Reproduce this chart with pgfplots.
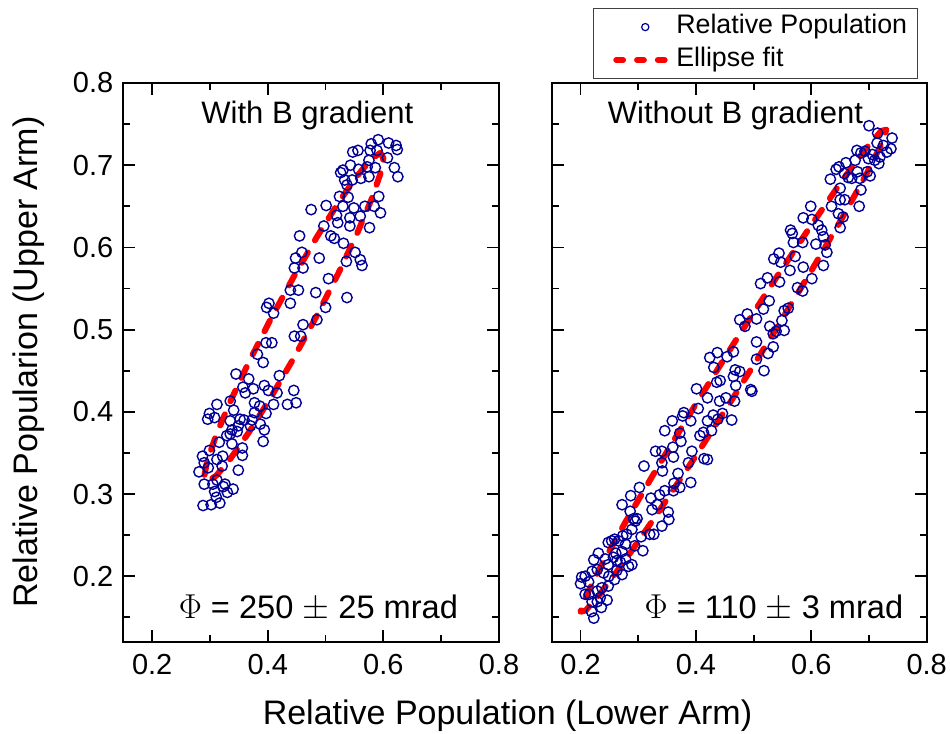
\documentclass[border=0pt]{standalone}
\usepackage{pgfplots}
\pgfplotsset{compat=1.18}
\usepackage{fontspec}
\setmainfont{Liberation Sans}
\definecolor{ptblue}{RGB}{0,0,150}
\definecolor{fitred}{RGB}{255,0,0}
\pgfplotsset{
  panel/.style={
    scale only axis, height=279.5pt,
    xmin=0.15, xmax=0.8, ymin=0.12, ymax=0.8,
    xtick={0.2,0.4,0.6,0.8}, minor xtick={0.3,0.5,0.7},
    ytick={0.2,0.3,0.4,0.5,0.6,0.7,0.8},
    minor ytick={0.15,0.25,0.35,0.45,0.55,0.65,0.75},
    tick align=inside,
    major tick length=6pt, minor tick length=3.5pt,
    tick style={black, line width=0.9pt},
    axis line style={line width=1pt},
    /pgf/number format/assume math mode=true,
    /pgf/number format/fixed, /pgf/number format/fixed zerofill,
    /pgf/number format/precision=1,
    tick label style={font=\fontsize{14.5}{16}\selectfont},
    xticklabel style={yshift=-2.5pt},
    yticklabel style={xshift=-1.5pt},
  },
  pts/.style={only marks, mark=o, color=ptblue, mark size=2.6pt, mark options={line width=0.7pt}},
  fit/.style={no markers, color=fitred, line width=3pt, line cap=round, line join=round, dash pattern=on 6pt off 7pt},
}
\begin{document}
\begin{tikzpicture}
\useasboundingbox (0,0) rectangle (475pt,367pt);
% ---------------- left panel ----------------
\begin{axis}[panel, width=187.85pt, at={(61.65pt,46pt)}, anchor=south west]
\addplot[pts] coordinates {
(.579,.726) (.591,.731) (.609,.727) (.622,.724) (.624,.719) (.547,.716) (.556,.718) (.577,.718) (.589,.718) (.607,.709)
(.575,.706) (.543,.700) (.530,.694) (.526,.691) (.557,.695) (.572,.698) (.586,.697) (.619,.697) (.625,.686) (.533,.682)
(.537,.676) (.546,.682) (.561,.684) (.575,.686) (.524,.662) (.539,.661) (.592,.662) (.475,.646) (.501,.651) (.530,.650)
(.549,.648) (.568,.650) (.584,.650) (.595,.642) (.519,.639) (.542,.636) (.560,.638) (.521,.630) (.542,.626) (.576,.624)
(.497,.626) (.455,.614) (.509,.614) (.515,.611) (.531,.605) (.551,.594) (.560,.585) (.563,.578) (.536,.583) (.448,.587)
(.459,.594) (.446,.575) (.461,.575) (.489,.587) (.505,.562) (.439,.548) (.453,.548) (.483,.545) (.537,.539) (.439,.532)
(.398,.527) (.402,.532) (.410,.520) (.500,.527) (.461,.506) (.485,.512) (.446,.492) (.457,.492) (.397,.484) (.407,.484)
(.382,.470) (.392,.460)
(.345,.446) (.367,.440) (.420,.444) (.357,.430) (.361,.423) (.375,.428) (.394,.432) (.401,.426) (.416,.423) (.445,.426)
(.335,.413) (.312,.409) (.299,.398) (.296,.391) (.308,.393) (.341,.402) (.335,.389) (.352,.391) (.359,.390) (.377,.411)
(.386,.407) (.377,.399) (.397,.398) (.373,.390) (.370,.383) (.387,.385) (.394,.378) (.349,.383) (.338,.378) (.329,.371)
(.335,.373) (.347,.376) (.316,.363) (.338,.361) (.392,.364) (.356,.356) (.356,.347) (.287,.346) (.299,.353) (.290,.338)
(.312,.342) (.322,.346) (.297,.332) (.321,.334) (.281,.327) (.349,.329) (.290,.312) (.312,.317) (.305,.312) (.326,.312)
(.308,.303) (.323,.309) (.340,.306) (.330,.302) (.311,.296) (.288,.286) (.302,.287) (.317,.289) (.434,.409) (.449,.411)
(.410,.409)
};
\addplot[fit] coordinates {
(.6000,.7088) (.5947,.7150) (.5792,.7076) (.5546,.6870) (.5225,.6548) (.4851,.6129) (.4450,.5645) (.4049,.5126)
(.3675,.4609) (.3354,.4129) (.3108,.3719) (.2953,.3406) (.2900,.3212) (.2953,.3150) (.3108,.3224) (.3354,.3430)
(.3675,.3752) (.4049,.4171) (.4450,.4655) (.4851,.5174) (.5225,.5691) (.5546,.6171) (.5792,.6581) (.5947,.6894)
(.6000,.7088)
};
\node[anchor=base, font=\fontsize{15.5}{17}\selectfont] at (rel axis cs:0.49,0.928) {With B gradient};
\node[anchor=base west, font=\fontsize{16.3}{18}\selectfont] at (rel axis cs:0.129,0.042) {$\Phi$ = 250 $\pm$ 25 mrad};
\end{axis}
% ---------------- right panel ----------------
\begin{axis}[panel, width=187.5pt, at={(275.85pt,46pt)}, anchor=south west,
  yticklabels={},
  legend cell align=left,
  legend style={at={(0.976,1.007)}, anchor=south east, draw=black!75, line width=0.5pt, fill=white,
    font=\fontsize{13.4}{15}\selectfont, inner xsep=3pt, inner ysep=1.6pt, row sep=1.2pt,
    nodes={inner xsep=2pt, inner ysep=1pt, text height=10pt, text depth=3.3pt},
    /tikz/every even column/.append style={column sep=5.5pt}},
]
\addplot[pts, legend image code/.code={\path (0pt,0pt); \draw[ptblue, line width=0.6pt] (21.5pt,0pt) circle (1.8pt); \path (33.5pt,0pt);}] coordinates {
(.700,.748) (.715,.739) (.740,.733) (.714,.727) (.725,.724) (.738,.720) (.731,.716) (.679,.718) (.686,.715) (.693,.717)
(.706,.713) (.699,.708) (.710,.706) (.719,.710) (.717,.702) (.676,.706) (.660,.703) (.648,.698) (.643,.695) (.657,.690)
(.664,.685) (.680,.692) (.684,.684) (.697,.692) (.702,.687) (.670,.684) (.633,.683) (.686,.670) (.650,.672) (.650,.658)
(.658,.658) (.683,.650) (.599,.650) (.635,.650) (.647,.641) (.586,.636) (.601,.634) (.612,.627) (.618,.621) (.621,.613)
(.650,.624) (.655,.637) (.564,.621) (.567,.617) (.569,.606) (.585,.606) (.608,.604) (.624,.603) (.627,.594) (.544,.593)
(.535,.586) (.572,.589)
(.621,.578) (.547,.582) (.563,.572) (.586,.576) (.601,.562) (.512,.556) (.524,.563) (.545,.558) (.576,.551) (.585,.547)
(.527,.535) (.517,.525) (.553,.523) (.560,.526) (.489,.519) (.476,.512) (.505,.513) (.485,.504) (.549,.511) (.528,.504)
(.539,.498) (.553,.499) (.534,.495) (.505,.485) (.534,.479) (.525,.471) (.465,.473) (.454,.467) (.437,.472) (.424,.466)
(.431,.454) (.505,.464) (.518,.450) (.468,.451) (.476,.449) (.465,.443) (.442,.438) (.436,.436) (.495,.427) (.401,.428)
(.469,.432)
(.497,.425) (.420,.417) (.441,.413) (.452,.417) (.467,.413) (.404,.404) (.379,.399) (.377,.395) (.391,.389) (.359,.389)
(.420,.389) (.430,.396) (.438,.391) (.446,.398) (.462,.390) (.346,.377) (.372,.374) (.407,.371) (.413,.375) (.427,.377)
(.374,.364) (.360,.357) (.330,.352) (.341,.352) (.393,.352) (.361,.345) (.387,.338) (.414,.343) (.420,.342) (.341,.338)
(.310,.334) (.342,.328) (.369,.325) (.391,.314) (.362,.313) (.372,.308) (.302,.308) (.287,.298) (.322,.295) (.337,.299)
(.346,.304) (.361,.304) (.333,.287) (.272,.287) (.324,.281) (.286,.279) (.352,.278) (.292,.270) (.298,.270)
(.295,.267) (.289,.257) (.280,.251) (.278,.239) (.273,.249) (.259,.245) (.254,.243) (.248,.241) (.266,.243) (.294,.237)
(.308,.231) (.305,.248) (.320,.251) (.327,.251) (.341,.261) (.353,.269) (.257,.223) (.261,.228) (.272,.230) (.263,.219)
(.269,.217) (.278,.221) (.283,.212) (.289,.214) (.263,.207) (.272,.202) (.259,.196) (.249,.200) (.240,.204) (.229,.208)
(.231,.228) (.223,.220) (.220,.206) (.208,.200) (.202,.199) (.200,.191) (.214,.193) (.237,.186) (.248,.188) (.229,.182)
(.215,.178) (.208,.178) (.234,.174) (.246,.171) (.229,.169) (.236,.162) (.220,.169) (.219,.157) (.223,.149) (.248,.214)
(.243,.221)
};
\addlegendentry{Relative Population}
\addplot[fit, legend image code/.code={\path (0pt,0pt); \draw[fitred, line width=3pt, line cap=round, dash pattern=on 3.4pt off 7pt] (7pt,0pt) -- (32pt,0pt); \path (33.5pt,0pt);}] coordinates {
(.7300,.7432) (.7210,.7416) (.6945,.7201) (.6524,.6802) (.5975,.6246) (.5336,.5572) (.4650,.4824) (.3964,.4054)
(.3325,.3314) (.2776,.2656) (.2355,.2123) (.2090,.1751) (.2000,.1568) (.2090,.1584) (.2355,.1799) (.2776,.2198)
(.3325,.2754) (.3964,.3428) (.4650,.4176) (.5336,.4946) (.5975,.5686) (.6524,.6344) (.6945,.6877) (.7210,.7249)
(.7300,.7432)
};
\addlegendentry{Ellipse fit}
\node[anchor=base, font=\fontsize{15.5}{17}\selectfont] at (rel axis cs:0.49,0.928) {Without B gradient};
\node[anchor=base west, font=\fontsize{16.3}{18}\selectfont] at (rel axis cs:0.229,0.042) {$\Phi$ = 110 $\pm$ 3 mrad};
\end{axis}
% ---------------- shared axis labels ----------------
\node[anchor=base, font=\fontsize{17}{19}\selectfont] at (253.75pt,4.5pt) {Relative Population (Lower Arm)};
\node[anchor=base, rotate=90, font=\fontsize{17}{19}\selectfont] at (19pt,186pt) {Relative Popularion (Upper Arm)};
\end{tikzpicture}
\end{document}
